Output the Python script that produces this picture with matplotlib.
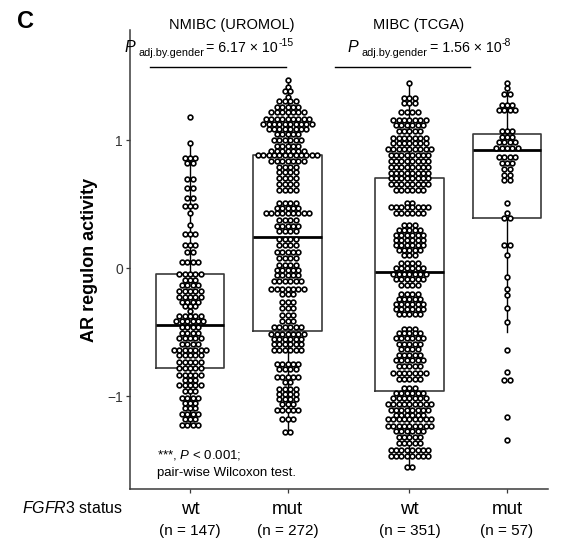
import numpy as np
import matplotlib
matplotlib.use('Agg')
import matplotlib.pyplot as plt

plt.rcParams['font.family'] = ['Liberation Sans', 'DejaVu Sans']
plt.rcParams['mathtext.fontset'] = 'custom'
plt.rcParams['mathtext.rm'] = 'Liberation Sans'
plt.rcParams['mathtext.it'] = 'Liberation Sans:italic'
plt.rcParams['mathtext.bf'] = 'Liberation Sans:bold'

# ---------------- data ----------------
tick_labels = ['wt', 'mut', 'wt', 'mut']
n_labels = ['(n = 147)', '(n = 272)', '(n = 351)', '(n = 57)']
cohorts = ['NMIBC (UROMOL)', 'MIBC (TCGA)']
p_values = ['6.17', '1.56']
p_exponents = ['-15', '-8']

# AR regulon activity: binned values (row level) and number of samples per row
nmibc_wt_levels = [1.18, 0.98, 0.86, 0.82, 0.70, 0.63, 0.55, 0.49, 0.43, 0.34, 0.27, 0.18,
                   0.13, 0.05, -0.04, -0.09, -0.13, -0.18, -0.22, -0.26, -0.29, -0.33,
                   -0.375, -0.41, -0.46, -0.505, -0.545, -0.59, -0.64, -0.68, -0.73, -0.78,
                   -0.83, -0.87, -0.91, -0.96, -1.01, -1.05, -1.09, -1.14, -1.18, -1.22]
nmibc_wt_counts = [1, 1, 3, 2, 2, 2, 2, 3, 1, 1, 3, 3,
                   2, 4, 5, 3, 4, 5, 5, 4, 3, 1,
                   5, 6, 4, 4, 5, 4, 7, 5, 5, 5,
                   5, 3, 5, 3, 4, 3, 3, 4, 3, 4]

nmibc_mut_levels = [1.47, 1.42, 1.385, 1.34, 1.31, 1.26, 1.22, 1.17, 1.125, 1.09, 1.05, 1.00,
                    0.96, 0.92, 0.885, 0.84, 0.79, 0.755, 0.71, 0.66, 0.61, 0.51, 0.47, 0.43,
                    0.38, 0.33, 0.29, 0.23, 0.18, 0.13, 0.08, 0.03, -0.01, -0.05, -0.10, -0.16,
                    -0.20, -0.26, -0.31, -0.365, -0.41, -0.46, -0.51, -0.55, -0.59, -0.64,
                    -0.75, -0.79, -0.85, -0.89, -0.94, -0.98, -1.02, -1.06, -1.11, -1.18, -1.28]
nmibc_mut_counts = [1, 1, 2, 1, 4, 5, 7, 9, 10, 8, 5, 6,
                    5, 7, 12, 7, 4, 4, 4, 4, 4, 4, 5, 9,
                    4, 5, 4, 4, 4, 5, 4, 4, 5, 5, 6, 7,
                    3, 3, 3, 3, 3, 6, 7, 6, 6, 6,
                    5, 4, 5, 2, 4, 4, 4, 3, 5, 3, 2]

mibc_wt_levels = [1.45, 1.33, 1.29, 1.22, 1.16, 1.12, 1.075, 1.02, 0.98, 0.93, 0.89, 0.84,
                  0.79, 0.745, 0.705, 0.66, 0.61, 0.51, 0.48, 0.43, 0.34, 0.30, 0.26, 0.22,
                  0.18, 0.145, 0.105, 0.04, 0.00, -0.04, -0.08, -0.13, -0.20, -0.24, -0.28,
                  -0.32, -0.36, -0.47, -0.505, -0.545, -0.59, -0.63, -0.675, -0.715, -0.765,
                  -0.82, -0.865, -0.935, -0.97, -1.01, -1.06, -1.105, -1.145, -1.18, -1.23,
                  -1.27, -1.32, -1.365, -1.42, -1.47, -1.55]
mibc_wt_counts = [1, 3, 3, 4, 7, 6, 5, 7, 7, 9, 8, 8,
                  8, 8, 8, 8, 6, 2, 8, 6, 3, 5, 6, 6,
                  6, 5, 3, 4, 6, 7, 6, 4, 4, 5, 6,
                  6, 5, 3, 5, 6, 5, 4, 5, 6, 5,
                  7, 5, 3, 6, 7, 9, 8, 6, 9, 9,
                  6, 5, 5, 8, 8, 2]

mibc_mut_levels = [1.45, 1.41, 1.36, 1.28, 1.24, 1.07, 1.03, 0.99, 0.944, 0.87, 0.825, 0.78,
                   0.73, 0.69, 0.51, 0.43, 0.39, 0.18, 0.105, -0.07, -0.16, -0.21, -0.31,
                   -0.42, -0.64, -0.81, -0.87, -1.16, -1.34]
mibc_mut_counts = [1, 1, 2, 3, 4, 3, 3, 4, 5, 4, 3, 2,
                   2, 2, 1, 1, 2, 2, 1, 1, 1, 1, 1,
                   1, 1, 1, 2, 1, 1]

group_levels = [nmibc_wt_levels, nmibc_mut_levels, mibc_wt_levels, mibc_mut_levels]
group_counts = [nmibc_wt_counts, nmibc_mut_counts, mibc_wt_counts, mibc_mut_counts]

# box statistics
box_whislo = [-1.22, -1.28, -1.55, -0.50]
box_q1 = [-0.78, -0.49, -0.96, 0.39]
box_med = [-0.445, 0.247, -0.03, 0.924]
box_q3 = [-0.04, 0.89, 0.705, 1.047]
box_whishi = [0.98, 1.47, 1.45, 1.45]

# ---------------- layout ----------------
W, H = 580, 542
fig = plt.figure(figsize=(W / 100, H / 100), dpi=100)
ax_l, ax_r, ax_b, ax_t = 130, 548, 489, 30
ax = fig.add_axes([ax_l / W, 1 - ax_b / H, (ax_r - ax_l) / W, (ax_b - ax_t) / H])

positions = [1, 2, 3.25, 4.25]
xlim = (0.385, 4.67)
ylim = (-1.724, 1.863)
ax.set_xlim(*xlim)
ax.set_ylim(*ylim)

stats = []
for i in range(4):
    stats.append(dict(med=box_med[i], q1=box_q1[i], q3=box_q3[i],
                      whislo=box_whislo[i], whishi=box_whishi[i], fliers=[]))
ax.bxp(stats, positions=positions, widths=0.7, showcaps=False, showfliers=False,
       boxprops=dict(color='#3a3a3a', linewidth=1.2),
       whiskerprops=dict(color='black', linewidth=1.0),
       medianprops=dict(color='black', linewidth=2.0),
       manage_ticks=False, zorder=1)

# dot layout: centred rows, pitch given in pixels
px_per_x = (ax_r - ax_l) / (xlim[1] - xlim[0])
pitch_px = 5.4
for pos, levels, counts in zip(positions, group_levels, group_counts):
    xs, ys = [], []
    for lv, c in zip(levels, counts):
        offs = (np.arange(c) - (c - 1) / 2) * pitch_px / px_per_x
        xs.extend(pos + offs)
        ys.extend([lv] * c)
    ax.scatter(xs, ys, s=11.5, facecolor='white', edgecolor='black', linewidth=1.2, zorder=3)

# axes styling
for sp in ['top', 'right']:
    ax.spines[sp].set_visible(False)
for sp in ['left', 'bottom']:
    ax.spines[sp].set_color('#3a3a3a')
    ax.spines[sp].set_linewidth(1.1)
ax.set_yticks([-1, 0, 1])
ax.set_yticklabels(['−1', '0', '1'])
ax.set_xticks(positions)
ax.set_xticklabels([])
ax.tick_params(axis='both', direction='out', length=3, width=0.9, color='#3a3a3a',
               labelsize=10, labelcolor='#333333', pad=2)
ax.set_ylabel('AR regulon activity', fontsize=13, fontweight='bold', labelpad=7)

# x labels (wt / mut and n)
for pos, lab, nl in zip(positions, tick_labels, n_labels):
    ax.annotate(lab, xy=(pos, 0), xycoords=('data', 'axes fraction'), xytext=(0, -21),
                textcoords='offset pixels', ha='center', va='center', fontsize=13.5)
    ax.annotate(nl, xy=(pos, 0), xycoords=('data', 'axes fraction'), xytext=(0, -42),
                textcoords='offset pixels', ha='center', va='center', fontsize=11)

fig.text(123 / W, 1 - 508 / H, r'$\mathit{FGFR3}$ status', ha='right', va='center', fontsize=11.5)

# panel letter and cohort titles
fig.text(25 / W, 1 - 22 / H, 'C', ha='center', va='center', fontsize=17, fontweight='bold')
fig.text(232 / W, 1 - 25 / H, cohorts[0], ha='center', va='center', fontsize=10.5)
fig.text(419 / W, 1 - 25 / H, cohorts[1], ha='center', va='center', fontsize=10.5)

# p-value annotations built from pieces
renderer = fig.canvas.get_renderer()


def chain_text(x0_px, base_px, pieces):
    x = x0_px
    for txt, size, dy, style, gap in pieces:
        x += gap
        t = fig.text(x / W, 1 - (base_px - dy) / H, txt, ha='left', va='baseline',
                     fontsize=size, style=style)
        bb = t.get_window_extent(renderer=renderer)
        x += bb.width


for x0, pv, pe in zip([125, 348], p_values, p_exponents):
    chain_text(x0, 52, [('P', 11.5, 0, 'italic', 0),
                        ('adj.by.gender', 7.8, -4, 'normal', 2.5),
                        ('= ' + pv + ' × 10', 10.2, 0, 'normal', 2.5),
                        (pe, 7.5, 6, 'normal', 0)])

yl = (ax_b - 66.7) / (ax_b - ax_t)
ax.plot([(150 - ax_l) / (ax_r - ax_l), (286 - ax_l) / (ax_r - ax_l)], [yl, yl],
        transform=ax.transAxes, color='black', linewidth=1.0, clip_on=False)
ax.plot([(335 - ax_l) / (ax_r - ax_l), (470 - ax_l) / (ax_r - ax_l)], [yl, yl],
        transform=ax.transAxes, color='black', linewidth=1.0, clip_on=False)

# footnote
ax.text((157 - ax_l) / (ax_r - ax_l), (ax_b - 455) / (ax_b - ax_t), r'***, $\mathit{P}$ < 0.001;',
        transform=ax.transAxes, ha='left', va='center', fontsize=9.5)
ax.text((157 - ax_l) / (ax_r - ax_l), (ax_b - 473) / (ax_b - ax_t), 'pair-wise Wilcoxon test.',
        transform=ax.transAxes, ha='left', va='center', fontsize=9.5)

fig.savefig('out.png', dpi=100)
